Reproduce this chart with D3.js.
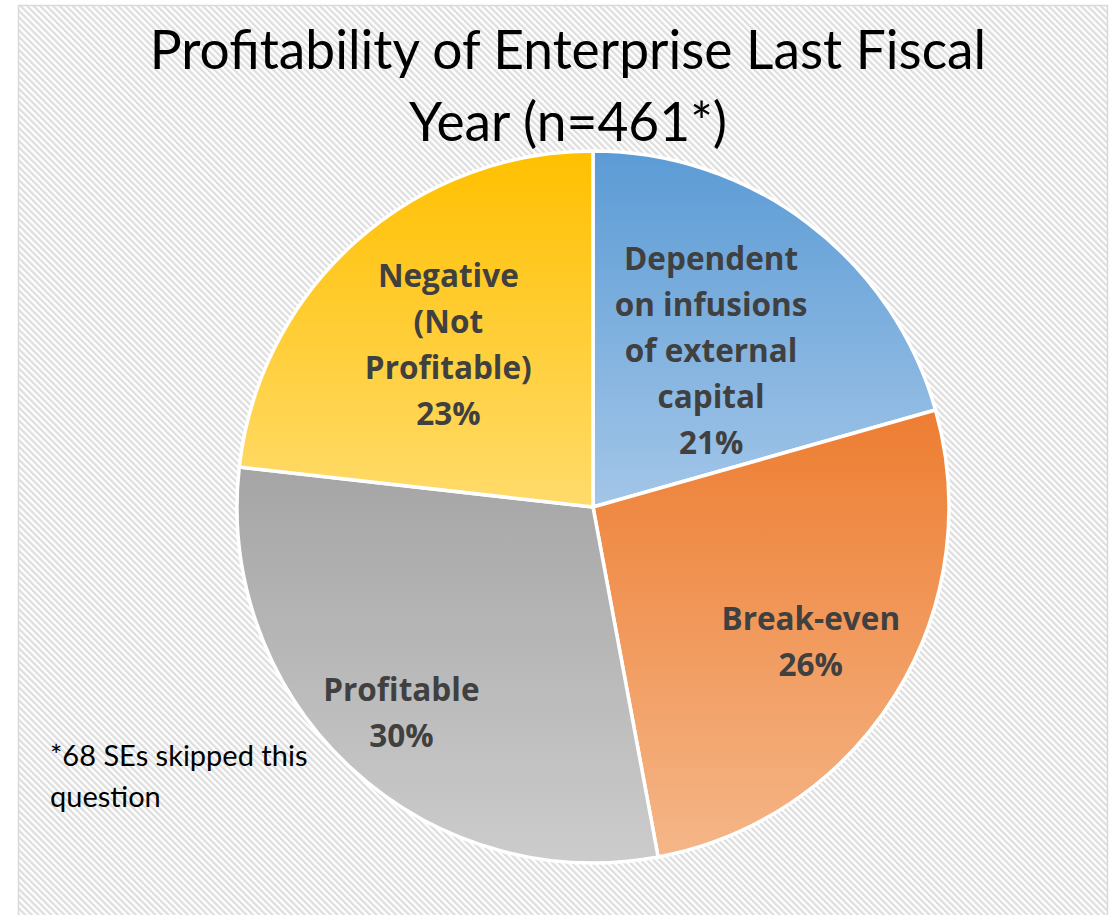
<!DOCTYPE html>
<html>
<head>
<meta charset="utf-8">
<script src="https://cdn.jsdelivr.net/npm/d3@7/dist/d3.min.js"></script>
<style>
  html, body { margin: 0; padding: 0; background: #ffffff; }
  svg { display: block; }
</style>
</head>
<body>
<svg id="chart" width="1117" height="915"></svg>
<script>
// ---- data ----
const categories = ["Dependent on infusions of external capital", "Break-even", "Profitable", "Negative (Not Profitable)"];
const counts = [95, 122, 137, 107];   // estimated respondent counts (n = 461)
const labelLines = [
  ["Dependent", "on infusions", "of external", "capital"],
  ["Break-even"],
  ["Profitable"],
  ["Negative", "(Not", "Profitable)"]
];
const titleLines = ["Profitability of Enterprise Last Fiscal", "Year (n=461*)"];
const footnoteLines = ["*68 SEs skipped this", "question"];

// ---- styles ----
const topColors = ["#5B9BD5", "#ED7D31", "#A5A5A5", "#FFC000"];
const bottomColors = ["#A3C6E8", "#F5B688", "#CCCCCC", "#FFDB6B"];
const labelRadiusFactor = [0.55, 0.72, 0.79, 0.61];

const W = 1117, H = 915;
const cx = 593, cy = 507, R = 356;
const total = d3.sum(counts);

const svg = d3.select("#chart");
const defs = svg.append("defs");

// stripe background pattern
const pat = defs.append("pattern")
  .attr("id", "stripes")
  .attr("patternUnits", "userSpaceOnUse")
  .attr("width", 4.6).attr("height", 4.6)
  .attr("patternTransform", "rotate(-45)");
pat.append("rect").attr("width", 4.6).attr("height", 4.6).attr("fill", "#ffffff");
pat.append("rect").attr("width", 2.3).attr("height", 4.6).attr("fill", "#DEDEDE");

// chart area
svg.append("rect")
  .attr("x", 18.5).attr("y", 5.5)
  .attr("width", 1089).attr("height", 920)
  .attr("fill", "url(#stripes)")
  .attr("stroke", "#D9D9D9").attr("stroke-width", 1.5);

// gradients
topColors.forEach((c, i) => {
  const g = defs.append("linearGradient")
    .attr("id", "grad" + i)
    .attr("x1", 0).attr("y1", 0).attr("x2", 0).attr("y2", 1);
  g.append("stop").attr("offset", "0%").attr("stop-color", c);
  g.append("stop").attr("offset", "100%").attr("stop-color", bottomColors[i]);
});

const pie = d3.pie().sort(null).value(d => d)(counts);
const arc = d3.arc().innerRadius(0).outerRadius(R);

const gPie = svg.append("g").attr("transform", `translate(${cx},${cy})`);
gPie.selectAll("path.slice")
  .data(pie)
  .join("path")
  .attr("class", "slice")
  .attr("d", arc)
  .attr("fill", (d, i) => `url(#grad${i})`)
  .attr("stroke", "#ffffff")
  .attr("stroke-width", 3.5)
  .attr("stroke-linejoin", "round");

// labels
const lineH = 46;
const fmt = d3.format(".0%");
pie.forEach((d, i) => {
  const mid = (d.startAngle + d.endAngle) / 2;
  const r = R * labelRadiusFactor[i];
  const x = r * Math.sin(mid), y = -r * Math.cos(mid);
  const lines = labelLines[i].concat([fmt(counts[i] / total)]);
  const n = lines.length;
  const t = gPie.append("text")
    .attr("text-anchor", "middle")
    .attr("font-family", "'Open Sans', Lato, sans-serif")
    .attr("font-weight", "bold")
    .attr("font-size", 31.5)
    .attr("fill", "#404040");
  lines.forEach((ln, k) => {
    t.append("tspan")
      .attr("x", x)
      .attr("y", y + (k - (n - 1) / 2) * lineH)
      .attr("dy", "0.36em")
      .text(ln);
  });
});

// title
const title = svg.append("text")
  .attr("text-anchor", "middle")
  .attr("font-family", "Lato, 'Open Sans', sans-serif")
  .attr("font-size", 53.3)
  .attr("fill", "#000000");
titleLines.forEach((ln, k) => {
  title.append("tspan")
    .attr("x", 568)
    .attr("y", 50 + k * 72)
    .attr("dy", "0.36em")
    .text(ln);
});

// footnote
const foot = svg.append("text")
  .attr("font-family", "Lato, 'Open Sans', sans-serif")
  .attr("font-size", 29)
  .attr("fill", "#000000");
footnoteLines.forEach((ln, k) => {
  foot.append("tspan")
    .attr("x", 50)
    .attr("y", 756 + k * 41)
    .attr("dy", "0.36em")
    .text(ln);
});
</script>
</body>
</html>
